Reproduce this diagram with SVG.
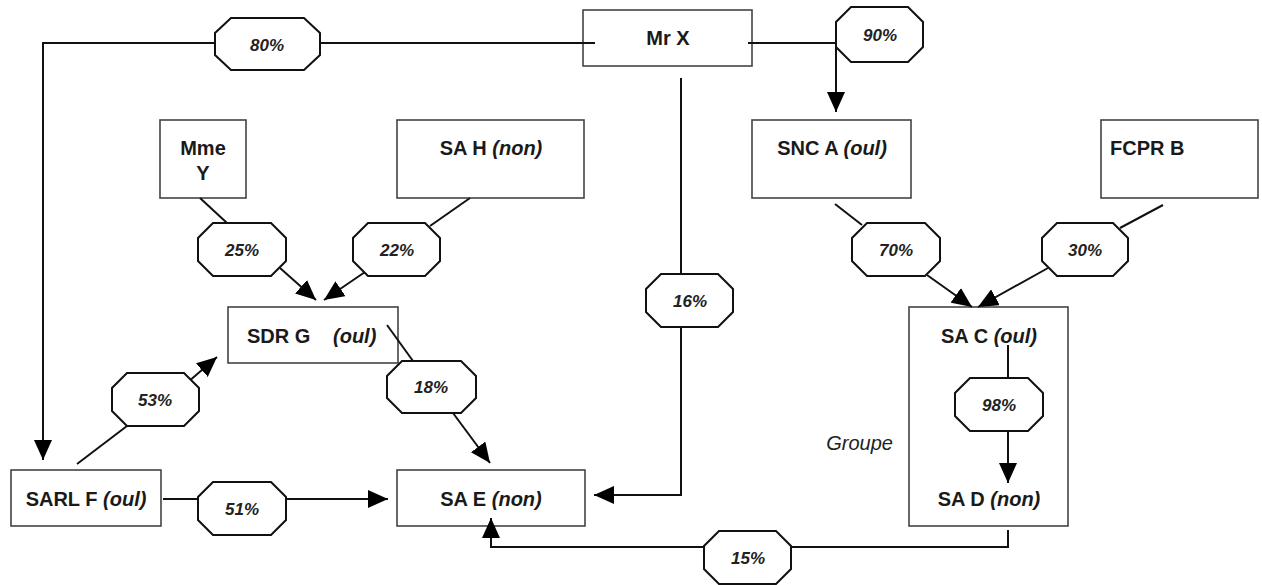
<svg xmlns="http://www.w3.org/2000/svg" width="1262" height="585" viewBox="0 0 1262 585">
<style>
.box{fill:#fff;stroke:#444;stroke-width:1.6}
.frame{fill:none;stroke:#444;stroke-width:1.6}
.lbl{font-family:"Liberation Sans",Arial,sans-serif;font-size:20px;font-weight:bold;fill:#1a1a1a}
.it{font-style:italic}
.ln{fill:none;stroke:#111;stroke-width:2}
.oct{fill:#fff;stroke:#111;stroke-width:2}
.pct{font-family:"Liberation Sans",Arial,sans-serif;font-size:17px;font-weight:bold;font-style:italic;fill:#222;text-anchor:middle}
.grp{font-family:"Liberation Sans",Arial,sans-serif;font-size:20px;font-style:italic;fill:#222}
</style>
<defs>
<marker id="ah" markerUnits="userSpaceOnUse" markerWidth="20" markerHeight="18" refX="20" refY="9" orient="auto">
<path d="M0,0 L20,9 L0,18 z" fill="#000"/>
</marker>
</defs>
<rect width="1262" height="585" fill="#fff"/>

<g id="groupe">
<rect class="frame" x="909" y="307" width="159" height="219"/>
<text class="grp" x="893" y="450" text-anchor="end">Groupe</text>
</g>
<g id="mrx">
<rect class="box" x="583" y="10" width="169" height="56"/>
<text class="lbl" x="668" y="45" text-anchor="middle">Mr X</text>
</g>
<g id="mmey">
<rect class="box" x="160" y="120" width="86" height="78"/>
<text class="lbl" x="203" y="155" text-anchor="middle">Mme</text>
<text class="lbl" x="203" y="180" text-anchor="middle">Y</text>
</g>
<g id="sah">
<rect class="box" x="397" y="120" width="187" height="78"/>
<text class="lbl" x="491" y="155" text-anchor="middle">SA H <tspan class="it">(non)</tspan></text>
</g>
<g id="snca">
<rect class="box" x="752" y="120" width="159" height="78"/>
<text class="lbl" x="832" y="155" text-anchor="middle">SNC A <tspan class="it">(oul)</tspan></text>
</g>
<g id="fcprb">
<rect class="box" x="1101" y="120" width="157" height="78"/>
<text class="lbl" x="1110" y="155">FCPR B</text>
</g>
<g id="sdrg">
<rect class="box" x="228" y="307" width="170" height="56"/>
<text class="lbl" x="247" y="343">SDR G</text>
<text class="lbl it" x="333" y="343">(oul)</text>
</g>
<g id="sarlf">
<rect class="box" x="11" y="470" width="150" height="56"/>
<text class="lbl" x="86" y="506" text-anchor="middle">SARL F <tspan class="it">(oul)</tspan></text>
</g>
<g id="sae">
<rect class="box" x="397" y="470" width="188" height="56"/>
<text class="lbl" x="491" y="506" text-anchor="middle">SA E <tspan class="it">(non)</tspan></text>
</g>
<g id="sac">
<text class="lbl" x="989" y="343" text-anchor="middle">SA C <tspan class="it">(oul)</tspan></text>
</g>
<g id="sad">
<text class="lbl" x="989" y="506" text-anchor="middle">SA D <tspan class="it">(non)</tspan></text>
</g>

<g id="connectors">
<polyline class="ln" points="595,43 43,43 43,460" marker-end="url(#ah)"/>
<polyline class="ln" points="748,43 836,43 836,112" marker-end="url(#ah)"/>
<polyline class="ln" points="681,78 681,495 594,495" marker-end="url(#ah)"/>
<line class="ln" x1="200" y1="198" x2="227" y2="223"/>
<line class="ln" x1="280" y1="268" x2="316" y2="300" marker-end="url(#ah)"/>
<line class="ln" x1="470" y1="198" x2="430" y2="226"/>
<line class="ln" x1="365" y1="272" x2="324" y2="300" marker-end="url(#ah)"/>
<line class="ln" x1="387" y1="325" x2="413" y2="361"/>
<line class="ln" x1="453" y1="413" x2="490" y2="463" marker-end="url(#ah)"/>
<line class="ln" x1="77" y1="464" x2="127" y2="426"/>
<line class="ln" x1="188" y1="382" x2="217" y2="357" marker-end="url(#ah)"/>
<line class="ln" x1="163" y1="499" x2="388" y2="499" marker-end="url(#ah)"/>
<line class="ln" x1="835" y1="204" x2="862" y2="225"/>
<line class="ln" x1="927" y1="275" x2="972" y2="307" marker-end="url(#ah)"/>
<line class="ln" x1="1163" y1="205" x2="1120" y2="228"/>
<line class="ln" x1="1048" y1="268" x2="978" y2="307" marker-end="url(#ah)"/>
<line class="ln" x1="1008" y1="345" x2="1008" y2="378"/>
<line class="ln" x1="1008" y1="431" x2="1008" y2="483" marker-end="url(#ah)"/>
<polyline class="ln" points="1008,530 1008,547 491,547 491,518" marker-end="url(#ah)"/>
</g>

<g id="labels">
<polygon class="oct" points="231,18 304,18 320,33 320,55 304,70 231,70 215,55 215,33"/>
<text class="pct" x="267" y="51">80%</text>
<polygon class="oct" points="851,7 908,7 923,22 923,47 908,62 851,62 836,47 836,22"/>
<text class="pct" x="880" y="41">90%</text>
<polygon class="oct" points="213,223 271,223 286,238 286,261 271,276 213,276 198,261 198,238"/>
<text class="pct" x="242" y="256">25%</text>
<polygon class="oct" points="368,223 425,223 440,238 440,261 425,276 368,276 353,261 353,238"/>
<text class="pct" x="397" y="256">22%</text>
<polygon class="oct" points="661,274 718,274 733,289 733,312 718,327 661,327 646,312 646,289"/>
<text class="pct" x="690" y="307">16%</text>
<polygon class="oct" points="867,223 925,223 940,238 940,261 925,276 867,276 852,261 852,238"/>
<text class="pct" x="896" y="256">70%</text>
<polygon class="oct" points="1057,223 1113,223 1128,238 1128,261 1113,276 1057,276 1042,261 1042,238"/>
<text class="pct" x="1085" y="256">30%</text>
<polygon class="oct" points="127,373 184,373 199,388 199,411 184,426 127,426 112,411 112,388"/>
<text class="pct" x="155" y="406">53%</text>
<polygon class="oct" points="402,361 461,361 476,376 476,398 461,413 402,413 387,398 387,376"/>
<text class="pct" x="431" y="393">18%</text>
<polygon class="oct" points="970,378 1028,378 1043,393 1043,416 1028,431 970,431 955,416 955,393"/>
<text class="pct" x="999" y="411">98%</text>
<polygon class="oct" points="213,482 271,482 286,497 286,520 271,535 213,535 198,520 198,497"/>
<text class="pct" x="242" y="515">51%</text>
<polygon class="oct" points="719,531 776,531 791,546 791,569 776,584 719,584 704,569 704,546"/>
<text class="pct" x="748" y="564">15%</text>
</g>
</svg>
